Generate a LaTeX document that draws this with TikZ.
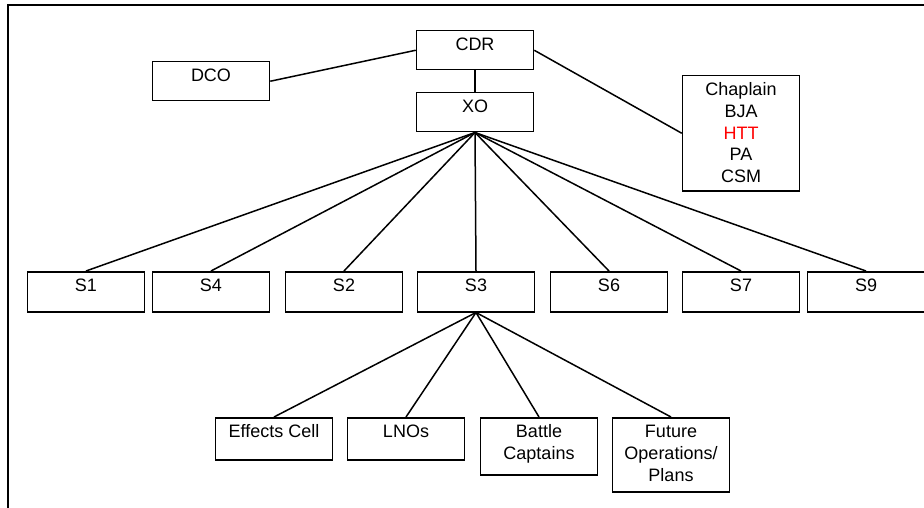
\documentclass[tikz,border=0pt]{standalone}
\usepackage{fontspec}
\setmainfont{Liberation Sans}
\usepackage{xcolor}
\usepackage{tikz}
\usetikzlibrary{positioning}
\newcommand{\unittext}[2]{\begin{minipage}[t][#1][t]{117pt}\fontsize{18}{21.7}\selectfont\centering\rule{0pt}{20pt}#2\end{minipage}}

\begin{document}
\begin{tikzpicture}[x=1pt,y=-1pt,
  unit/.style={draw, line width=1.5pt, inner sep=0pt, anchor=north},
  link/.style={line width=1.5pt}]
  \useasboundingbox (0,0) rectangle (924,508);
  \draw[line width=2pt] (8,508) -- (8,5) -- (924,5);

  \node[unit] (cdr) at (475,30) {\unittext{39pt}{CDR}};
  \node[unit] (xo) at (475,92) {\unittext{39pt}{XO}};
  \node[unit] (dco) at (211,61) {\unittext{39pt}{DCO}};
  \node[unit] (staff) at (741,75) {\unittext{115pt}{Chaplain\\BJA\\\textcolor{red}{HTT}\\PA\\CSM}};

  \draw[link] (cdr.west) -- (dco.east);
  \draw[link] (cdr.east) -- (staff.west);
  \draw[link] (cdr.south) -- (xo.north);

  \node[unit] (S1) at (86,271) {\unittext{40pt}{S1}};
  \node[unit] (S4) at (211,271) {\unittext{40pt}{S4}};
  \node[unit] (S2) at (344,271) {\unittext{40pt}{S2}};
  \node[unit] (S3) at (476,271) {\unittext{40pt}{S3}};
  \node[unit] (S6) at (609,271) {\unittext{40pt}{S6}};
  \node[unit] (S7) at (741,271) {\unittext{40pt}{S7}};
  \node[unit] (S9) at (866,271) {\unittext{40pt}{S9}};

  \draw[link] (xo.south) -- (S1.north);
  \draw[link] (xo.south) -- (S4.north);
  \draw[link] (xo.south) -- (S2.north);
  \draw[link] (xo.south) -- (S3.north);
  \draw[link] (xo.south) -- (S6.north);
  \draw[link] (xo.south) -- (S7.north);
  \draw[link] (xo.south) -- (S9.north);

  \node[unit] (effects) at (274,417) {\unittext{42pt}{Effects Cell}};
  \node[unit] (lnos) at (406,417) {\unittext{42pt}{LNOs}};
  \node[unit] (captains) at (539,417) {\unittext{57pt}{Battle\\Captains}};
  \node[unit] (futureops) at (671,417) {\unittext{74pt}{Future\\Operations/\\Plans}};

  \draw[link] (S3.south) -- (effects.north);
  \draw[link] (S3.south) -- (lnos.north);
  \draw[link] (S3.south) -- (captains.north);
  \draw[link] (S3.south) -- (futureops.north);
\end{tikzpicture}
\end{document}
